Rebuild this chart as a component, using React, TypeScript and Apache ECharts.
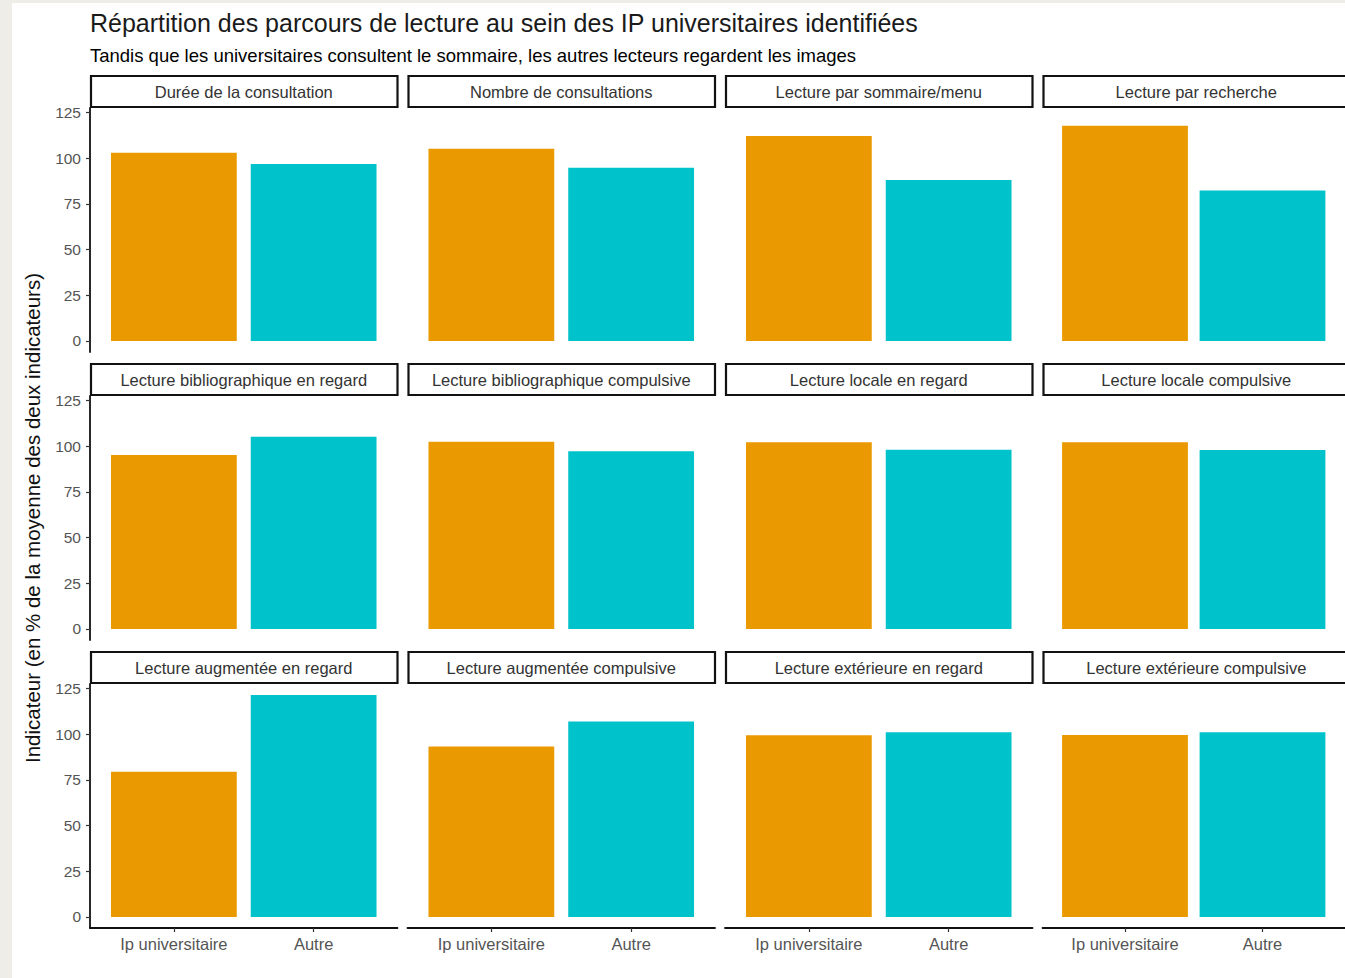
import React, { useEffect, useRef } from "react";
import * as echarts from "echarts";

const titleText = "Répartition des parcours de lecture au sein des IP universitaires identifiées";
const subtitleText = "Tandis que les universitaires consultent le sommaire, les autres lecteurs regardent les images";
const yTitle = "Indicateur (en % de la moyenne des deux indicateurs)";

const categories = ["Ip universitaire", "Autre"];
const facets = [
  "Durée de la consultation",
  "Nombre de consultations",
  "Lecture par sommaire/menu",
  "Lecture par recherche",
  "Lecture bibliographique en regard",
  "Lecture bibliographique compulsive",
  "Lecture locale en regard",
  "Lecture locale compulsive",
  "Lecture augmentée en regard",
  "Lecture augmentée compulsive",
  "Lecture extérieure en regard",
  "Lecture extérieure compulsive",
];
const ipValues = [103, 105.2, 112.2, 117.8, 95.3, 102.5, 102.2, 102.2, 79.5, 93.4, 99.5, 99.6];
const autreValues = [96.9, 94.8, 88.2, 82.4, 105.3, 97.3, 98.1, 98.0, 121.5, 107.0, 101.1, 101.1];
const yTicks = [0, 25, 50, 75, 100, 125];

const COLORS = ["#EA9A00", "#00C2CB"];
const FONT = "'Liberation Sans', Arial, Helvetica, sans-serif";

export default function App() {
  const ref = useRef<HTMLDivElement>(null);

  useEffect(() => {
    if (!ref.current) return;
    const chart = echarts.init(ref.current, null, { renderer: "svg" });

    const nCols = 4;
    const colPitch = 317.5;
    const panelW = 307.5;
    const left0 = 90;
    const rowPitch = 288;
    const top0 = 108;
    const panelH = 244;
    const stripH = 31;

    const allVals = ipValues.concat(autreValues);
    const maxV = Math.max(...allVals);
    const yMin = -0.05 * maxV;
    const yMax = 1.05 * maxV;
    const unit = panelW / 2.2;

    const grids: any[] = [];
    const xAxes: any[] = [];
    const yAxes: any[] = [];
    const series: any[] = [];
    const graphics: any[] = [
      { type: "rect", shape: { x: 0, y: 0, width: 12, height: 978 }, style: { fill: "#eeede7" }, silent: true },
      { type: "rect", shape: { x: 0, y: 0, width: 1345, height: 3 }, style: { fill: "#eeede7" }, silent: true },
      {
        type: "text",
        x: 90,
        y: 23,
        style: { text: titleText, fill: "#1a1a1a", font: `25px ${FONT}`, textAlign: "left", textVerticalAlign: "middle" },
      },
      {
        type: "text",
        x: 90,
        y: 55,
        style: { text: subtitleText, fill: "#000", font: `18.5px ${FONT}`, textAlign: "left", textVerticalAlign: "middle" },
      },
      {
        type: "text",
        x: 32,
        y: 518,
        rotation: Math.PI / 2,
        style: { text: yTitle, fill: "#111", font: `20.5px ${FONT}`, textAlign: "center", textVerticalAlign: "middle" },
      },
    ];

    facets.forEach((name, i) => {
      const c = i % nCols;
      const r = Math.floor(i / nCols);
      const left = left0 + c * colPitch;
      const top = top0 + r * rowPitch;
      const isFirstCol = c === 0;
      const isLastRow = r === 2;

      grids.push({ left, top, width: panelW, height: panelH, containLabel: false });
      xAxes.push({
        type: "value",
        gridIndex: i,
        min: 0.4,
        max: 2.6,
        splitLine: { show: false },
        axisLine: { show: isLastRow, onZero: false, lineStyle: { color: "#111", width: 1.8 } },
        axisTick: {
          show: isLastRow,
          customValues: [1, 2],
          length: 4,
          lineStyle: { color: "#333", width: 1.2 },
        },
        axisLabel: {
          show: isLastRow,
          customValues: [1, 2],
          formatter: (v: number) => categories[Math.round(v) - 1] || "",
          color: "#555",
          fontSize: 16.5,
          fontFamily: FONT,
          margin: 7,
        },
      });
      yAxes.push({
        type: "value",
        gridIndex: i,
        min: yMin,
        max: yMax,
        splitLine: { show: false },
        axisLine: { show: isFirstCol, onZero: false, lineStyle: { color: "#111", width: 1.8 } },
        axisTick: {
          show: isFirstCol,
          customValues: yTicks,
          length: 4,
          lineStyle: { color: "#333", width: 1.2 },
        },
        axisLabel: {
          show: isFirstCol,
          customValues: yTicks,
          color: "#555",
          fontSize: 15.5,
          fontFamily: FONT,
          margin: 9,
        },
      });
      series.push({
        type: "bar",
        xAxisIndex: i,
        yAxisIndex: i,
        barWidth: 0.9 * unit,
        data: [
          { value: [1, ipValues[i]], itemStyle: { color: COLORS[0] } },
          { value: [2, autreValues[i]], itemStyle: { color: COLORS[1] } },
        ],
      });

      graphics.push({
        type: "rect",
        shape: { x: left + 1, y: top - stripH - 1, width: panelW - 1, height: stripH },
        style: { fill: "#fff", stroke: "#111", lineWidth: 2.2 },
        silent: true,
      });
      graphics.push({
        type: "text",
        x: left + panelW / 2,
        y: top - stripH / 2 - 1,
        style: { text: name, fill: "#333", font: `16.5px ${FONT}`, textAlign: "center", textVerticalAlign: "middle" },
        silent: true,
      });
    });

    chart.setOption({
      animation: false,
      backgroundColor: "#ffffff",
      grid: grids,
      xAxis: xAxes,
      yAxis: yAxes,
      series,
      graphic: graphics,
    });

    return () => chart.dispose();
  }, []);

  return (
    <div
      ref={ref}
      style={{ position: "fixed", left: 0, top: 0, width: 1345, height: 978 }}
    />
  );
}
